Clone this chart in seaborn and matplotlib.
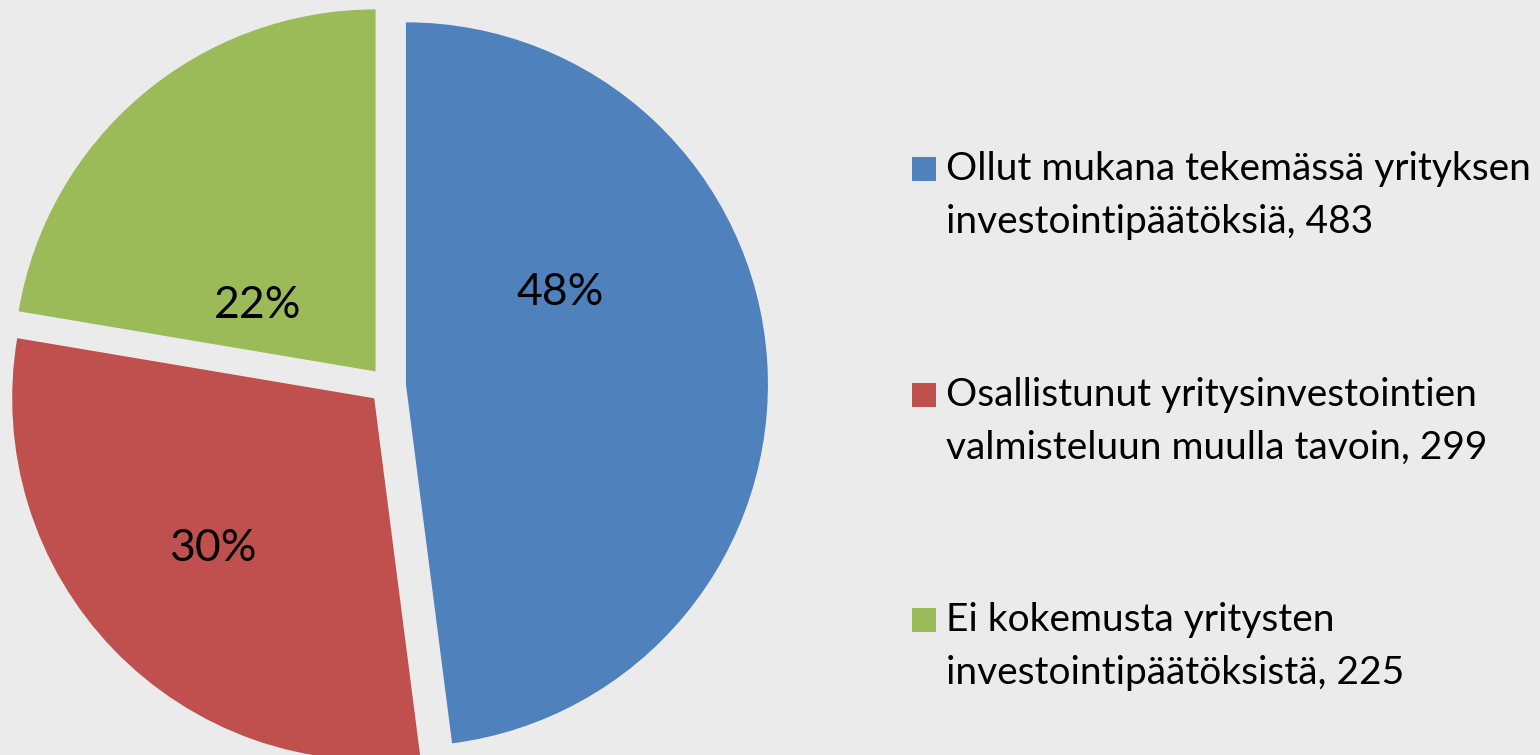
import matplotlib
matplotlib.use("Agg")
import matplotlib.pyplot as plt
from matplotlib.patches import Rectangle
import seaborn as sns

# ---- data ----
categories = [
    "Ollut mukana tekemässä yrityksen\ninvestointipäätöksiä, 483",
    "Osallistunut yritysinvestointien\nvalmisteluun muulla tavoin, 299",
    "Ei kokemusta yritysten\ninvestointipäätöksistä, 225",
]
counts = [483, 299, 225]
colors = ["#4F81BD", "#C0504D", "#9BBB59"]

# label positions (data units, radius = 1) chosen to mimic the original layout
label_pos = [(0.477, 0.258), (-0.482, -0.449), (-0.358, 0.220)]

BG = "#EBEBEB"
sns.set_theme(style="white")
plt.rcParams["font.family"] = ["Lato", "DejaVu Sans"]

W, H = 1540, 755
fig = plt.figure(figsize=(W / 100, H / 100), dpi=100, facecolor=BG)

# pie geometry in pixels
cx, cy, r = 387.5, 385.5, 362.0
lim = 1.15
size = 2 * lim * r
ax = fig.add_axes([(cx - size / 2) / W, ((H - cy) - size / 2) / H, size / W, size / H])
ax.set_facecolor(BG)

pal = sns.color_palette(colors)
wedges, texts, autotexts = ax.pie(
    counts,
    colors=pal,
    startangle=90,
    counterclock=False,
    explode=[0.051] * len(counts),
    autopct="%1.0f%%",
    wedgeprops=dict(linewidth=0),
    textprops=dict(fontsize=32, color="black"),
)
for t, (x, y) in zip(autotexts, label_pos):
    t.set_position((x, y))
    t.set_ha("center")
    t.set_va("center")
ax.set_xlim(-lim, lim)
ax.set_ylim(-lim, lim)
ax.set_aspect("equal")
ax.axis("off")

# ---- legend (manual, to match multi-line layout) ----
fs = 28
for i, (lab, col) in enumerate(zip(categories, pal)):
    base = 180 + 225.7 * i
    fig.patches.append(
        Rectangle((912 / W, (H - base - 1) / H), 24 / W, 24 / H,
                  transform=fig.transFigure, facecolor=col, edgecolor="none")
    )
    l1, l2 = lab.split("\n")
    fig.text(946 / W, (H - base) / H, l1, fontsize=fs, va="baseline", ha="left", color="black")
    fig.text(946 / W, (H - base - 53) / H, l2, fontsize=fs, va="baseline", ha="left", color="black")

fig.savefig("out.png", dpi=100, facecolor=BG)
